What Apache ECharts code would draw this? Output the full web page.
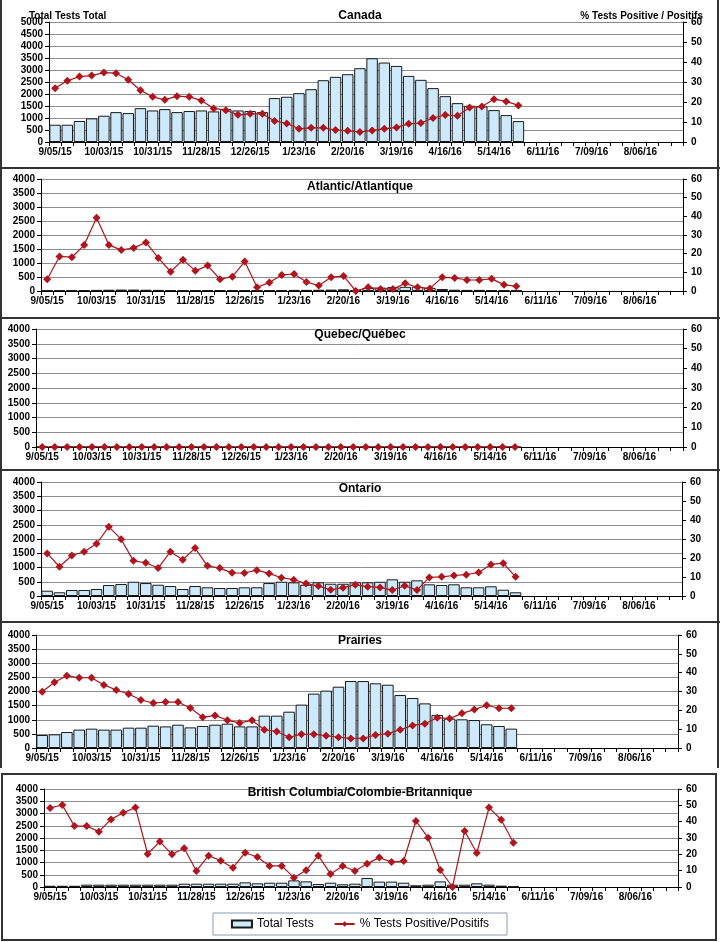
<!DOCTYPE html>
<html><head><meta charset="utf-8">
<script src="https://cdn.jsdelivr.net/npm/echarts/dist/echarts.min.js"></script>
<style>html,body{margin:0;padding:0;background:#fff}#c{width:720px;height:942px}</style>
</head><body><div id="c"></div>
<script>
const categories = ['9/05/15','9/12/15','9/19/15','9/26/15','10/03/15','10/10/15','10/17/15','10/24/15','10/31/15','11/07/15','11/14/15','11/21/15','11/28/15','12/05/15','12/12/15','12/19/15','12/26/15',
'1/02/16','1/09/16','1/16/16','1/23/16','1/30/16','2/06/16','2/13/16','2/20/16','2/27/16','3/05/16','3/12/16','3/19/16','3/26/16','4/02/16','4/09/16','4/16/16','4/23/16','4/30/16','5/07/16','5/14/16','5/21/16','5/28/16','6/04/16','6/11/16','6/18/16','6/25/16','7/02/16','7/09/16','7/16/16','7/23/16','7/30/16','8/06/16','8/13/16','8/20/16','8/27/16'];

const canadaTests = [720,720,875,985,1095,1245,1205,1410,1315,1370,1245,1290,1315,1275,1370,1315,1290,1245,1830,1885,2035,2200,2575,2715,2825,3075,3490,3310,3170,2755,2590,2245,1910,1620,1510,1485,1330,1120,870];
const canadaPos = [26.9,30.6,32.7,33.2,34.7,34.4,31.1,25.9,22.6,21.1,22.9,22.6,20.8,16.8,15.9,13.6,14.1,14.1,10.5,9.3,6.6,7.1,7.1,6.0,5.6,5.0,5.8,6.6,7.3,9.1,9.5,12.0,13.5,13.1,17.3,17.8,21.4,20.3,18.3];

const atlanticTests = [20,25,25,30,40,45,50,50,45,40,35,25,30,30,30,30,35,30,30,35,40,40,45,50,60,40,110,120,140,150,150,110,70,45,40,40,35,30,20];
const atlanticPos = [6.3,18.5,18.1,24.6,39.2,24.7,21.9,23.1,26.0,17.7,10.3,16.8,10.8,13.6,6.3,7.7,15.8,2.0,4.5,8.6,9.1,4.8,2.9,7.3,8.1,0,2.0,1.1,1.1,4.1,2.0,1.4,7.3,7.0,5.9,5.9,6.5,3.4,2.5];

const quebecTests = [0,0,0,0,0,0,0,0,0,0,0,0,0,0,0,0,0,0,0,0,0,0,0,0,0,0,0,0,0,0,0,0,0,0,0,0,0,0,0];
const quebecPos = [0,0,0,0,0,0,0,0,0,0,0,0,0,0,0,0,0,0,0,0,0,0,0,0,0,0,0,0,0,0,0,0,0,0,0,0,0,0,0];

const ontarioTests = [185,130,210,210,245,385,420,500,455,395,350,245,350,305,280,280,305,305,455,500,480,395,480,430,430,480,480,500,585,500,550,410,385,410,305,305,340,220,130];
const ontarioPos = [22.4,15.4,21.3,23.3,27.5,36.4,29.9,18.5,17.5,14.7,23.3,19.1,25.2,15.9,14.7,12.2,12.1,13.6,11.9,9.6,8.6,6.6,5.2,3.3,4.4,5.9,4.9,4.5,3.1,5.4,3.1,9.8,10.1,10.8,11.2,12.4,16.6,17.3,10.1];

const prairiesTests = [460,485,565,650,685,650,650,720,720,790,765,825,730,780,825,860,765,765,1145,1145,1285,1535,1925,2030,2170,2370,2370,2290,2240,1875,1770,1580,1170,1040,1015,990,840,780,685];
const prairiesPos = [29.9,34.9,38.4,37.3,37.3,33.5,30.8,28.7,25.5,23.9,24.4,24.4,21.2,16.3,17.3,14.7,13.3,14.7,9.7,8.8,5.7,7.3,7.3,6.5,5.7,5.1,5.1,6.9,7.6,9.7,12.0,12.9,16.1,15.6,18.4,20.4,22.7,21.1,21.1];

const bcTests = [50,50,50,95,95,95,95,95,95,95,95,135,135,135,135,135,190,150,175,175,270,230,120,175,110,135,365,220,220,175,70,95,230,95,95,150,95,55,25];
const bcPos = [48.4,50.2,37.3,37.3,33.9,41.4,45.5,48.6,20.2,27.8,20.0,23.7,9.8,19.2,16.1,11.8,21.0,18.4,12.9,12.9,5.7,10.2,19.2,8.0,12.9,9.8,14.3,18.0,15.3,15.9,40.4,30.2,10.4,0,34.3,20.8,48.6,41.2,27.1];

const leftMaxCanada = 5000, leftMaxRegion = 4000, rightMax = 60;

const FONT = 'Liberation Sans, Arial, sans-serif';
const panels = [
  {title:'Canada', tests:canadaTests, pos:canadaPos, max:leftMaxCanada, grid:{left:49,right:37,top:22,height:120}, titleTop:5},
  {title:'Atlantic/Atlantique', tests:atlanticTests, pos:atlanticPos, max:leftMaxRegion, grid:{left:41,right:37,top:179,height:112}, titleTop:176},
  {title:'Quebec/Québec', tests:quebecTests, pos:quebecPos, max:leftMaxRegion, grid:{left:36,right:37,top:329,height:118}, titleTop:324},
  {title:'Ontario', tests:ontarioTests, pos:ontarioPos, max:leftMaxRegion, grid:{left:41,right:38,top:482,height:114}, titleTop:478},
  {title:'Prairies', tests:prairiesTests, pos:prairiesPos, max:leftMaxRegion, grid:{left:36,right:42,top:635,height:113}, titleTop:630},
  {title:'British Columbia/Colombie-Britannique', tests:bcTests, pos:bcPos, max:leftMaxRegion, grid:{left:44,right:42,top:789,height:98}, titleTop:782}
];

const BAR = '#cde9fb', LINE = '#b0141c';
const lbl = {fontSize:10, fontWeight:'bold', color:'#000', fontFamily:FONT};
const plain = v => String(v);
const option = {
  animation:false,
  textStyle:{fontFamily:FONT},
  title: panels.map(p => ({text:p.title, left:'center', top:p.titleTop, textStyle:{fontSize:12, fontWeight:'bold', color:'#000', fontFamily:FONT}}))
    .concat([
      {text:'Total Tests Total', left:24, top:6, textStyle:{fontSize:10, fontWeight:'bold', color:'#000', fontFamily:FONT}},
      {text:'% Tests Positive / Positifs', right:12, top:6, textStyle:{fontSize:10, fontWeight:'bold', color:'#000', fontFamily:FONT}}
    ]),
  grid: panels.map(p => Object.assign({}, p.grid)),
  xAxis: panels.map((p,i) => ({
    type:'category', gridIndex:i, data:categories, boundaryGap:true,
    axisLine:{lineStyle:{color:'#000', width:1}},
    axisTick:{show:true, interval:0, length:4, lineStyle:{color:'#000'}},
    axisLabel:Object.assign({interval:3, margin:5}, lbl),
    splitLine:{show:false}
  })),
  yAxis: [].concat(...panels.map((p,i) => ([
    {type:'value', gridIndex:i, min:0, max:p.max, interval:500,
      axisLine:{show:true, lineStyle:{color:'#000'}}, axisTick:{show:true, length:4, lineStyle:{color:'#000'}},
      axisLabel:Object.assign({margin:6, formatter:plain}, lbl), splitLine:{show:true, lineStyle:{color:'#8c8c8c', width:1}}},
    {type:'value', gridIndex:i, position:'right', min:0, max:rightMax, interval:10,
      axisLine:{show:true, lineStyle:{color:'#000'}}, axisTick:{show:true, length:4, lineStyle:{color:'#000'}},
      axisLabel:Object.assign({margin:8, formatter:plain}, lbl), splitLine:{show:false}}
  ]))),
  legend: {
    data:[{name:'Total Tests', icon:'rect'}, {name:'% Tests Positive/Positifs'}],
    left:'center', top:913, padding:[5,18], itemGap:20, itemWidth:20, itemHeight:7,
    borderColor:'#8a9ab0', borderWidth:1,
    textStyle:{fontSize:12, color:'#000', fontFamily:FONT}
  },
  series: [].concat(...panels.map((p,i) => ([
    {name:'Total Tests', type:'bar', xAxisIndex:i, yAxisIndex:2*i, data:p.tests, barCategoryGap:'6%',
      itemStyle:{color:BAR, borderColor:'#1a1a1a', borderWidth:1}},
    {name:'% Tests Positive/Positifs', type:'line', xAxisIndex:i, yAxisIndex:2*i+1, data:p.pos, z:5,
      symbol:'diamond', symbolSize:8, lineStyle:{color:LINE, width:1.2}, itemStyle:{color:LINE}}
  ]))),
  graphic: [
    {type:'line', shape:{x1:0,y1:168,x2:720,y2:168}, style:{stroke:'#333', lineWidth:2}},
    {type:'line', shape:{x1:0,y1:318,x2:720,y2:318}, style:{stroke:'#333', lineWidth:2}},
    {type:'line', shape:{x1:0,y1:470,x2:720,y2:470}, style:{stroke:'#333', lineWidth:2}},
    {type:'line', shape:{x1:0,y1:622,x2:720,y2:622}, style:{stroke:'#333', lineWidth:2}},
    {type:'line', shape:{x1:1,y1:0,x2:1,y2:768}, style:{stroke:'#333', lineWidth:2}},
    {type:'line', shape:{x1:718,y1:0,x2:718,y2:768}, style:{stroke:'#333', lineWidth:2}},
    {type:'rect', shape:{x:2,y:774,width:714,height:166}, style:{fill:null, stroke:'#333', lineWidth:2}}
  ]
};
const chart = echarts.init(document.getElementById('c'), null, {renderer:'canvas'});
chart.setOption(option);
</script></body></html>
